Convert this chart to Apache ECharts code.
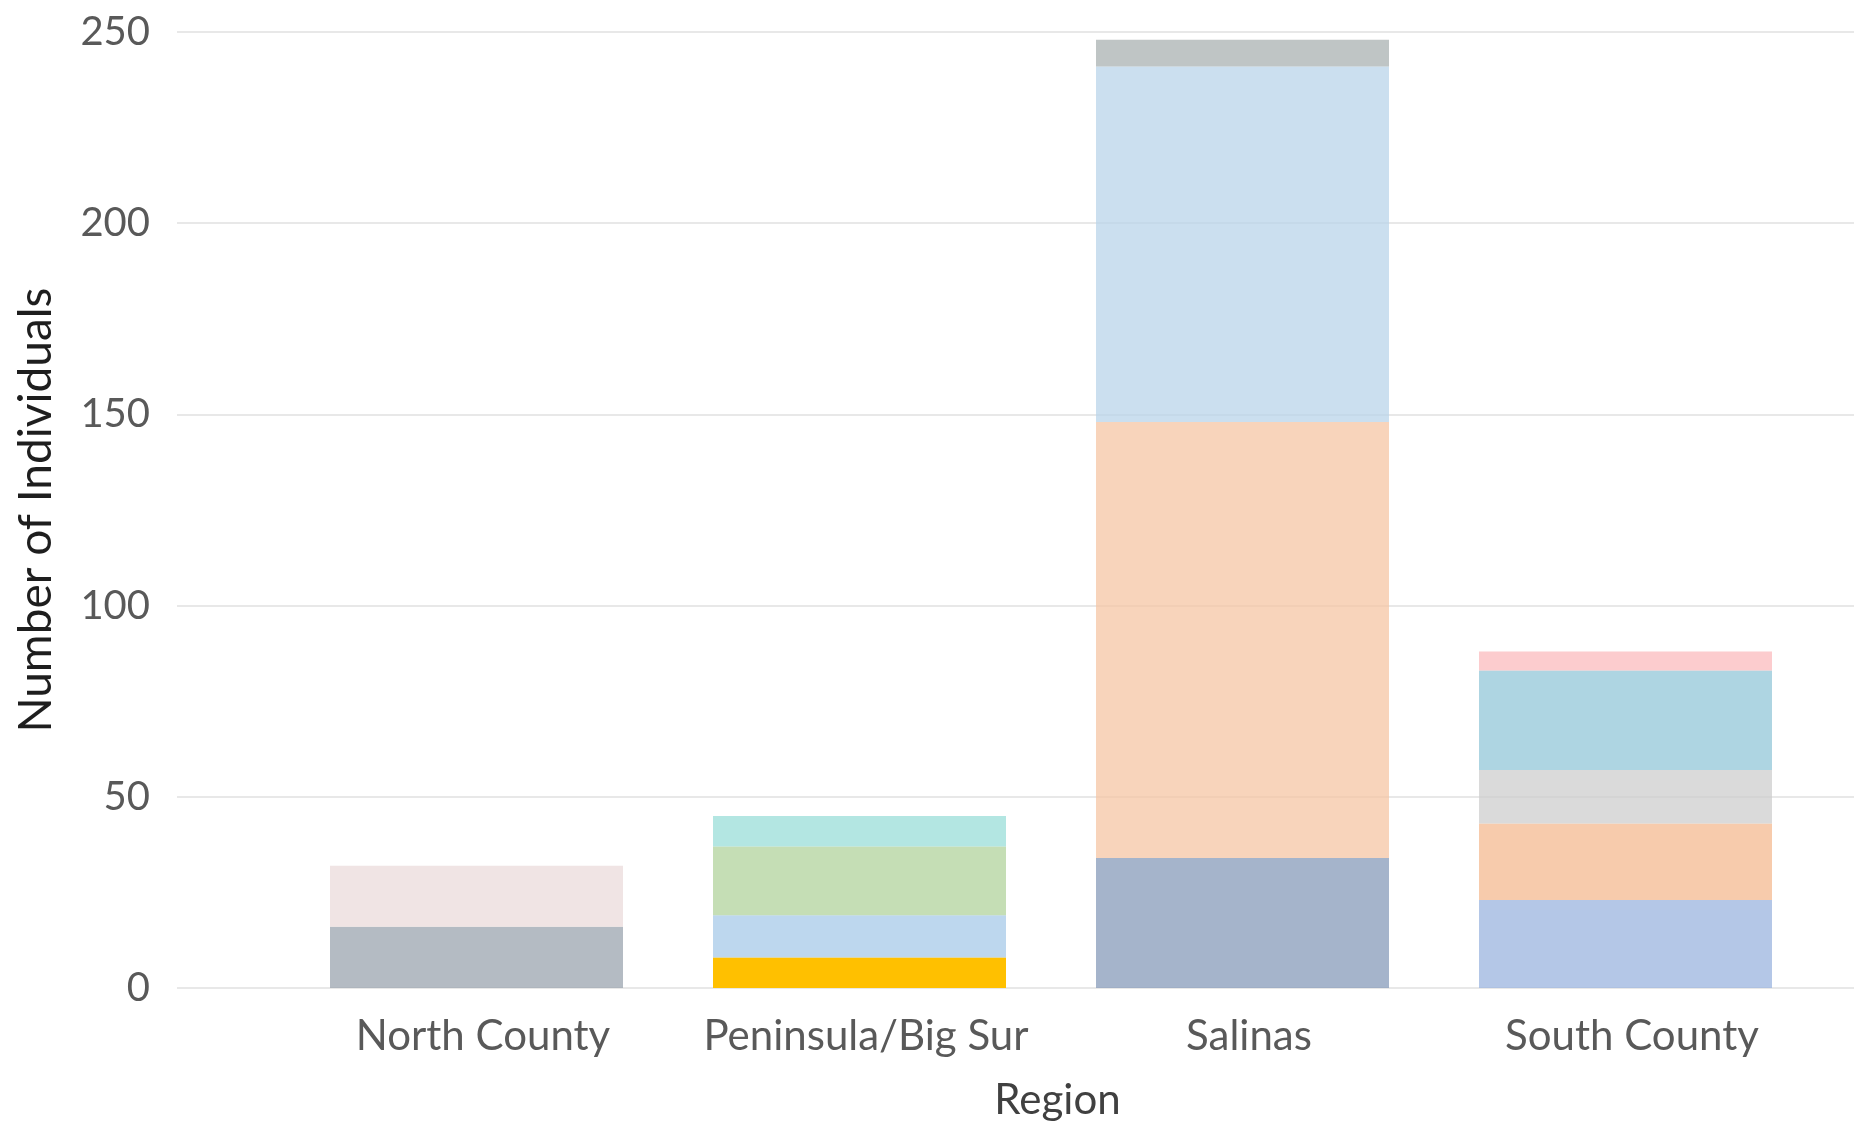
<!DOCTYPE html>
<html>
<head>
<meta charset="utf-8">
<script src="https://cdn.jsdelivr.net/npm/echarts@6/dist/echarts.min.js"></script>
<style>
html, body { margin: 0; padding: 0; background: #fff; }
#main { width: 1854px; height: 1122px; }
</style>
</head>
<body>
<div id="main"></div>
<script>
var regions = ['North County', 'Peninsula/Big Sur', 'Salinas', 'South County'];
var yTicks = [0, 50, 100, 150, 200, 250];

// stack layers, bottom to top ('-' = no segment)
var layer1 = [16, 8, 34, 23];
var layer2 = [16, 11, 114, 20];
var layer3 = ['-', 18, 93, 14];
var layer4 = ['-', 8, 7, 26];
var layer5 = ['-', '-', '-', 5];

var layer1Colors = ['#9BA4AF', '#FFC000', '#879BBA', '#9BB4DF'];
var layer2Colors = ['#EBDBDB', '#A7CAE8', '#F6C6A4', '#F4BA90'];
var layer3Colors = ['#fff', '#B2D39C', '#BAD4EA', '#CDCDCD'];
var layer4Colors = ['#fff', '#9ADED8', '#A9B1B1', '#93C7D8'];
var layer5Colors = ['#fff', '#fff', '#fff', '#FBBBBE'];

var fontName = 'Lato';

function buildLayer(name, values, colors) {
    return {
        name: name,
        type: 'bar',
        stack: 'total',
        xAxisIndex: 1,
        yAxisIndex: 1,
        barWidth: 293,
        data: values.map(function (v, i) {
            return {
                value: v,
                itemStyle: {
                    color: colors[i],
                    opacity: colors[i] === '#FFC000' ? 1 : 0.75
                }
            };
        })
    };
}

var myChart = echarts.init(document.getElementById('main'));

var option = {
    backgroundColor: '#ffffff',
    animation: false,
    grid: [{
        left: 177,
        right: 0,
        top: 32,
        bottom: 134,
        outerBoundsMode: 'none'
    }, {
        left: 285,
        right: 37,
        top: 32,
        bottom: 134,
        outerBoundsMode: 'none'
    }],
    xAxis: [{
        type: 'category',
        gridIndex: 0,
        data: regions,
        show: false
    }, {
        type: 'category',
        gridIndex: 1,
        data: regions,
        axisLine: { show: false },
        axisTick: { show: false },
        axisLabel: {
            interval: 0,
            fontFamily: fontName,
            fontSize: 42,
            color: '#595959',
            margin: 27,
            padding: [0, 0, 0, 13]
        },
        name: 'Region',
        nameLocation: 'middle',
        nameGap: 91,
        nameTextStyle: {
            fontFamily: fontName,
            fontSize: 42,
            color: '#404040',
            padding: [0, 0, 0, 13]
        }
    }],
    yAxis: [{
        type: 'value',
        gridIndex: 0,
        min: yTicks[0],
        max: yTicks[yTicks.length - 1],
        interval: 50,
        axisLine: { show: false },
        axisTick: { show: false },
        axisLabel: {
            fontFamily: fontName,
            fontSize: 40,
            color: '#595959',
            margin: 27
        },
        splitLine: {
            lineStyle: { color: '#E8E8E8', width: 2 }
        },
        name: 'Number of Individuals',
        nameLocation: 'middle',
        nameRotate: 90,
        nameGap: 118,
        nameTextStyle: {
            fontFamily: fontName,
            fontSize: 46,
            color: '#1e1e1e'
        }
    }, {
        type: 'value',
        gridIndex: 1,
        min: yTicks[0],
        max: yTicks[yTicks.length - 1],
        interval: 50,
        show: false,
        splitLine: { show: false }
    }],
    series: [
        buildLayer('Layer 1', layer1, layer1Colors),
        buildLayer('Layer 2', layer2, layer2Colors),
        buildLayer('Layer 3', layer3, layer3Colors),
        buildLayer('Layer 4', layer4, layer4Colors),
        buildLayer('Layer 5', layer5, layer5Colors)
    ]
};

myChart.setOption(option);
</script>
</body>
</html>
